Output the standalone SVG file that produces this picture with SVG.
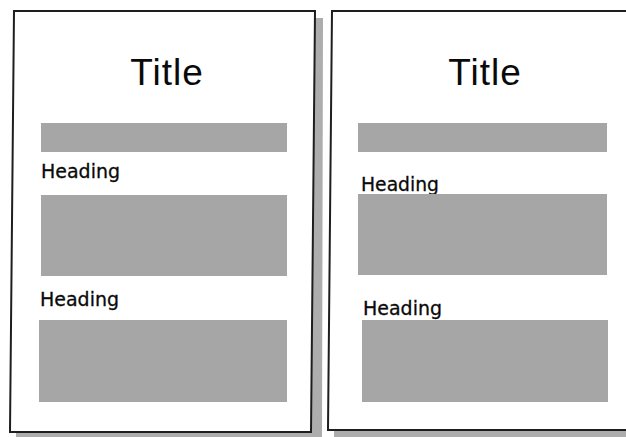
<svg xmlns="http://www.w3.org/2000/svg" width="626" height="437" viewBox="0 0 626 437">
  <style>
    .page { fill: #ffffff; stroke: #1e1e1e; stroke-width: 2; stroke-linejoin: miter; }
    .shadow { fill: #adadad; }
    .bar { fill: #a6a6a6; }
    .title { font-family: "Liberation Sans", Arial, sans-serif; font-size: 37px; fill: #0a0a0a; text-anchor: middle; letter-spacing: 1px; }
    .heading { font-family: "DejaVu Sans", "Liberation Sans", sans-serif; font-size: 19px; fill: #0a0a0a; stroke: #0a0a0a; stroke-width: 0.3; }
  </style>
  <rect x="0" y="0" width="626" height="437" fill="#ffffff"/>

  <g id="page-left">
    <polygon class="shadow" points="315,18 323,18 322,437 16,437 16,432 311,432"/>
    <polygon class="page" points="14,11 315,11 311,432 10,432"/>
    <text class="title" x="167" y="85">Title</text>
    <rect class="bar" x="41" y="123" width="246" height="29"/>
    <text class="heading" x="41" y="178" textLength="79" lengthAdjust="spacingAndGlyphs">Heading</text>
    <rect class="bar" x="41" y="195" width="246" height="81"/>
    <text class="heading" x="40" y="306" textLength="79" lengthAdjust="spacingAndGlyphs">Heading</text>
    <rect class="bar" x="39" y="320" width="248" height="82"/>
  </g>

  <g id="page-right">
    <polygon class="shadow" points="334,431 626,431 626,437 334,437"/>
    <polygon class="page" points="332,11 630,11 630,430 328,430"/>
    <text class="title" x="485" y="85">Title</text>
    <rect class="bar" x="358" y="123" width="249" height="29"/>
    <text class="heading" x="361" y="191" textLength="78" lengthAdjust="spacingAndGlyphs">Heading</text>
    <rect class="bar" x="358" y="194" width="249" height="81"/>
    <text class="heading" x="363" y="315" textLength="79" lengthAdjust="spacingAndGlyphs">Heading</text>
    <rect class="bar" x="362" y="320" width="246" height="82"/>
  </g>

  <g id="connectors"/>
</svg>
